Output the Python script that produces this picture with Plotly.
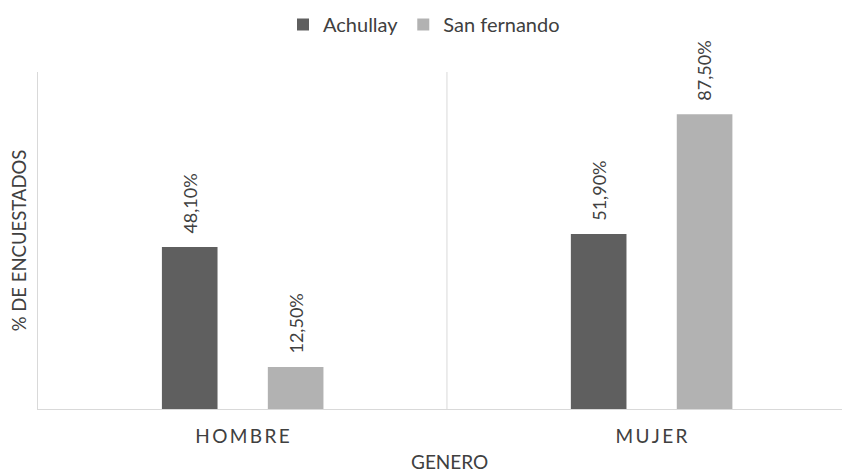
import plotly.graph_objects as go

# Survey share by gender and community
categorias = ["HOMBRE", "MUJER"]
etiquetas_eje = ["\u2009".join(c) for c in categorias]
series = ["Achullay", "San fernando"]
achullay = [48.1, 51.9]
san_fernando = [12.5, 87.5]
colores = ["#5f5f5f", "#b2b2b2"]

ANCHO = 0.136
OFFSETS = [-0.197, 0.062]

fuente = "Lato, Carlito, Calibri, sans-serif"
gris_texto = "#404040"

W, H = 842, 472
M_L, M_R, M_T, M_B = 38, 0, 72, 63
plot_w = W - M_L - M_R
plot_h = H - M_T - M_B


def px_x(x):
    return (x - M_L) / plot_w


def px_y(y):
    return (H - M_B - y) / plot_h


fig = go.Figure()
for nombre, valores, color, off in zip(series, [achullay, san_fernando], colores, OFFSETS):
    fig.add_trace(go.Bar(
        name=nombre, x=list(range(len(categorias))), y=valores,
        width=ANCHO, offset=off, marker=dict(color=color, line=dict(width=0)),
    ))
    for i, v in enumerate(valores):
        fig.add_annotation(
            x=i + off + ANCHO / 2, y=v, xref="x", yref="y",
            text=f"{v:.2f}%".replace(".", ","), textangle=-90,
            showarrow=False, xanchor="center", yanchor="bottom", yshift=11,
            font=dict(family=fuente, size=18, color=gris_texto),
        )

# separator between categories
fig.add_shape(type="line", xref="x", yref="paper", x0=0.5, x1=0.5, y0=0, y1=1,
              line=dict(color="#d9d9d9", width=1))

fig.update_layout(
    width=W, height=H,
    margin=dict(l=M_L, r=M_R, t=M_T, b=M_B),
    plot_bgcolor="white", paper_bgcolor="white",
    showlegend=True,
    legend=dict(orientation="h", x=px_x(283), y=px_y(5), xanchor="left", yanchor="top",
                font=dict(family=fuente, size=20, color=gris_texto),
                itemwidth=30),
    xaxis=dict(
        tickmode="array", tickvals=list(range(len(categorias))), ticktext=etiquetas_eje,
        range=[-0.5, 1.466], showgrid=False, zeroline=False,
        showline=True, linecolor="#d9d9d9", linewidth=1, ticks="",
        ticklabelstandoff=10,
        tickfont=dict(family=fuente, size=19, color=gris_texto),
    ),
    yaxis=dict(
        range=[0, 100], showgrid=False, zeroline=False, showticklabels=False,
        showline=True, linecolor="#d9d9d9", linewidth=1, ticks="",
        title=dict(text="% DE ENCUESTADOS", standoff=5,
                   font=dict(family=fuente, size=18.5, color=gris_texto)),
    ),
)

fig.add_annotation(x=px_x(449), y=px_y(448), xref="paper", yref="paper", text="GENERO",
                   showarrow=False, xanchor="center", yanchor="top",
                   font=dict(family=fuente, size=19, color=gris_texto))

fig.write_html("out.html")
